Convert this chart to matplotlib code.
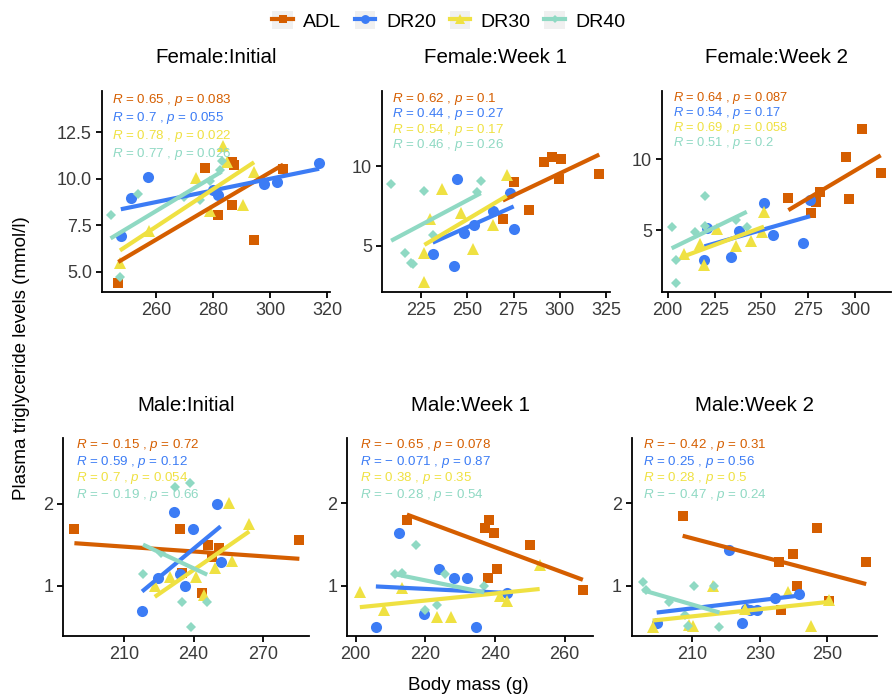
import numpy as np
import matplotlib
matplotlib.use('Agg')
import matplotlib.pyplot as plt
from matplotlib.lines import Line2D
from matplotlib.patches import Rectangle
from matplotlib.legend_handler import HandlerTuple

plt.rcParams['font.family'] = ['Liberation Sans', 'DejaVu Sans']
plt.rcParams['mathtext.fontset'] = 'custom'
plt.rcParams['mathtext.it'] = 'Liberation Sans:italic'
plt.rcParams['mathtext.rm'] = 'Liberation Sans'

groups = ['ADL', 'DR20', 'DR30', 'DR40']
group_colors = ['#D55E00', '#3C7CF5', '#EFE142', '#8FD9C3']
group_markers = ['s', 'o', '^', 'D']
marker_sizes = [7.5, 8.0, 9.0, 5.5]

panel_titles = ['Female:Initial', 'Female:Week 1', 'Female:Week 2',
                'Male:Initial', 'Male:Week 1', 'Male:Week 2']

# ---- Female: Initial ----
fi_adl_mass = [246.8, 277.3, 286.8, 287.3, 281.8, 286.8, 294.2, 304.6]
fi_adl_tg = [4.41, 10.57, 10.93, 10.75, 8.07, 8.61, 6.73, 10.54]
fi_dr20_mass = [247.7, 251.1, 257.1, 281.6, 297.7, 302.6, 317.2, 280.0]
fi_dr20_tg = [6.93, 8.96, 10.09, 9.11, 9.71, 9.82, 10.84, 9.40]
fi_dr30_mass = [247.4, 257.7, 274.0, 278.9, 283.6, 284.8, 290.6, 294.4]
fi_dr30_tg = [5.48, 7.18, 10.04, 8.25, 11.79, 10.93, 8.57, 10.39]
fi_dr40_mass = [244.1, 247.4, 253.8, 275.4, 282.4, 283.0, 270.0, 279.0]
fi_dr40_tg = [8.07, 4.73, 9.20, 8.84, 10.48, 10.98, 9.00, 9.90]

# ---- Female: Week 1 ----
fw1_adl_mass = [269.2, 275.5, 283.2, 291.7, 295.7, 300.7, 299.8, 321.4]
fw1_adl_tg = [6.68, 8.99, 7.23, 10.25, 10.59, 10.46, 9.20, 9.54]
fw1_dr20_mass = [231.3, 242.8, 244.5, 248.4, 253.7, 264.1, 273.1, 275.1]
fw1_dr20_tg = [4.47, 3.76, 9.22, 5.80, 6.32, 7.16, 8.32, 6.05]
fw1_dr30_mass = [226.8, 226.8, 229.9, 236.4, 246.5, 253.0, 263.8, 271.3]
fw1_dr30_tg = [2.75, 4.54, 6.68, 8.59, 7.06, 4.79, 6.28, 9.47]
fw1_dr40_mass = [208.8, 216.5, 220.5, 226.8, 231.7, 255.1, 257.3, 219.5]
fw1_dr40_tg = [8.91, 4.52, 3.84, 8.47, 5.69, 8.36, 9.05, 3.95]

# ---- Female: Week 2 ----
fw2_adl_mass = [264.4, 276.3, 279.2, 281.3, 295.2, 297.0, 303.6, 313.7]
fw2_adl_tg = [7.29, 6.18, 7.00, 7.71, 10.12, 7.17, 12.12, 9.00]
fw2_dr20_mass = [219.6, 221.2, 233.6, 238.3, 251.2, 256.4, 272.1, 276.0]
fw2_dr20_tg = [2.88, 5.19, 3.11, 4.93, 6.93, 4.65, 4.10, 7.12]
fw2_dr30_mass = [208.9, 217.3, 219.6, 226.2, 236.3, 244.5, 250.2, 251.4]
fw2_dr30_tg = [3.35, 4.06, 2.57, 5.12, 3.89, 4.22, 4.88, 6.30]
fw2_dr40_mass = [202.1, 204.4, 204.4, 214.6, 219.9, 219.9, 236.5, 242.2]
fw2_dr40_tg = [5.24, 2.92, 1.27, 4.88, 7.41, 5.28, 5.75, 5.24]

# ---- Male: Initial ----
mi_adl_mass = [188.4, 234.1, 246.2, 251.0, 234.8, 243.8, 285.8, 248.0]
mi_adl_tg = [1.70, 1.70, 1.50, 1.46, 1.16, 0.91, 1.56, 1.35]
mi_dr20_mass = [217.7, 224.6, 231.7, 234.3, 236.5, 239.6, 250.3, 251.7]
mi_dr20_tg = [0.70, 1.10, 1.90, 1.15, 1.00, 1.70, 2.00, 1.29]
mi_dr30_mass = [223.2, 229.7, 240.9, 244.5, 249.1, 255.4, 256.8, 264.1]
mi_dr30_tg = [1.00, 1.11, 1.11, 0.89, 1.22, 2.01, 1.31, 1.76]
mi_dr40_mass = [218.1, 225.7, 231.9, 235.1, 238.4, 239.1, 245.9]
mi_dr40_tg = [1.15, 1.40, 2.21, 0.80, 2.25, 0.50, 0.80]

# ---- Male: Week 1 ----
mw1_adl_mass = [214.7, 237.2, 238.4, 239.8, 237.9, 240.6, 250.1, 265.2]
mw1_adl_tg = [1.80, 1.70, 1.80, 1.64, 1.10, 1.20, 1.49, 0.95]
mw1_dr20_mass = [205.8, 212.5, 219.5, 223.8, 228.1, 231.9, 234.5, 243.4]
mw1_dr20_tg = [0.50, 1.64, 0.66, 1.20, 1.10, 1.10, 0.50, 0.91]
mw1_dr30_mass = [201.2, 208.0, 213.4, 223.3, 227.3, 241.3, 243.4, 252.8]
mw1_dr30_tg = [0.92, 0.71, 0.97, 0.62, 0.62, 0.87, 0.82, 1.25]
mw1_dr40_mass = [211.3, 213.2, 217.4, 219.9, 223.3, 225.7, 236.9]
mw1_dr40_tg = [1.14, 1.15, 1.49, 0.70, 0.77, 1.14, 1.00]

# ---- Male: Week 2 ----
mw2_adl_mass = [207.1, 236.2, 235.8, 239.7, 240.9, 247.0, 250.6, 261.5]
mw2_adl_tg = [1.85, 0.70, 1.29, 1.39, 1.00, 1.70, 0.81, 1.29]
mw2_dr20_mass = [199.4, 220.7, 224.6, 227.1, 229.1, 234.5, 241.7, 226.0]
mw2_dr20_tg = [0.55, 1.44, 0.55, 0.70, 0.70, 0.85, 0.90, 0.72]
mw2_dr30_mass = [198.2, 210.1, 216.0, 225.6, 238.4, 245.1, 250.6, 209.0]
mw2_dr30_tg = [0.50, 0.51, 1.00, 0.72, 0.93, 0.51, 0.83, 0.52]
mw2_dr40_mass = [195.3, 196.3, 208.8, 210.6, 216.4, 218.0, 207.8, 203.0]
mw2_dr40_tg = [1.05, 0.95, 0.51, 1.00, 1.00, 0.50, 0.64, 0.80]

M = '\u2212'
fi_labels = ['0.65|0.083', '0.7|0.055', '0.78|0.022', '0.77|0.026']
fw1_labels = ['0.62|0.1', '0.44|0.27', '0.54|0.17', '0.46|0.26']
fw2_labels = ['0.64|0.087', '0.54|0.17', '0.69|0.058', '0.51|0.2']
mi_labels = [M + ' 0.15|0.72', '0.59|0.12', '0.7|0.054', M + ' 0.19|0.66']
mw1_labels = [M + ' 0.65|0.078', M + ' 0.071|0.87', '0.38|0.35', M + ' 0.28|0.54']
mw2_labels = [M + ' 0.42|0.31', '0.25|0.56', '0.28|0.5', M + ' 0.47|0.24']

panels = [
    ([(fi_adl_mass, fi_adl_tg), (fi_dr20_mass, fi_dr20_tg), (fi_dr30_mass, fi_dr30_tg), (fi_dr40_mass, fi_dr40_tg)], fi_labels),
    ([(fw1_adl_mass, fw1_adl_tg), (fw1_dr20_mass, fw1_dr20_tg), (fw1_dr30_mass, fw1_dr30_tg), (fw1_dr40_mass, fw1_dr40_tg)], fw1_labels),
    ([(fw2_adl_mass, fw2_adl_tg), (fw2_dr20_mass, fw2_dr20_tg), (fw2_dr30_mass, fw2_dr30_tg), (fw2_dr40_mass, fw2_dr40_tg)], fw2_labels),
    ([(mi_adl_mass, mi_adl_tg), (mi_dr20_mass, mi_dr20_tg), (mi_dr30_mass, mi_dr30_tg), (mi_dr40_mass, mi_dr40_tg)], mi_labels),
    ([(mw1_adl_mass, mw1_adl_tg), (mw1_dr20_mass, mw1_dr20_tg), (mw1_dr30_mass, mw1_dr30_tg), (mw1_dr40_mass, mw1_dr40_tg)], mw1_labels),
    ([(mw2_adl_mass, mw2_adl_tg), (mw2_dr20_mass, mw2_dr20_tg), (mw2_dr30_mass, mw2_dr30_tg), (mw2_dr40_mass, mw2_dr40_tg)], mw2_labels),
]

x_ticks = [[260, 280, 300, 320], [225, 250, 275, 300, 325], [200, 225, 250, 275, 300],
           [210, 240, 270], [200, 220, 240, 260], [210, 230, 250]]
y_ticks = [[5.0, 7.5, 10.0, 12.5], [5, 10], [5, 10], [1, 2], [1, 2], [1, 2]]
y_fmt = ['%.1f', '%d', '%d', '%d', '%d', '%d']
x_lims = [(241.0, 321.0), (203.7, 327.2), (196.8, 319.2), (183.6, 290.1), (197.6, 268.2), (192.0, 264.7)]
y_lims = [(3.91, 14.73), (2.1, 14.73), (0.66, 14.79), (0.39, 2.80), (0.39, 2.79), (0.39, 2.79)]

# layout in pixels: left, right, top, bottom
W, H = 893, 698
boxes = [(101.7, 330, 91, 292), (381.7, 610, 91, 292), (661.7, 891, 91, 292),
         (63.3, 309.3, 438.3, 636), (347.3, 593.3, 438.3, 636), (631.7, 877, 438.3, 636)]
txt_dx = [10, 10, 11.5, 12.5, 12.5, 11.5]
txt_first = [9.3, 7.6, 6.8, 6.7, 6.7, 6.7]
txt_step = [18.0, 15.6, 15.0, 16.7, 16.7, 16.7]

fig = plt.figure(figsize=(W / 100, H / 100), dpi=100)
fig.patch.set_facecolor('white')

for i, (series, labels) in enumerate(panels):
    l, r, t, b = boxes[i]
    ax = fig.add_axes([l / W, 1 - b / H, (r - l) / W, (b - t) / H])
    for g, (xs, ys) in enumerate(series):
        ax.plot(xs, ys, linestyle='none', marker=group_markers[g], ms=marker_sizes[g],
                color=group_colors[g], markeredgewidth=0, zorder=2)
    for g, (xs, ys) in enumerate(series):
        xa, ya = np.array(xs), np.array(ys)
        k, c = np.polyfit(xa, ya, 1)
        xx = np.array([xa.min(), xa.max()])
        ax.plot(xx, k * xx + c, color=group_colors[g], lw=3.0, solid_capstyle='butt', zorder=3)
    fs = 9.3 if txt_step[i] < 15.5 else 9.6
    for g, lab in enumerate(labels):
        rv, pv = lab.split('|')
        s = r'$\mathit{R}$ = ' + rv + r' , $\mathit{p}$ = ' + pv
        ax.annotate(s, xy=(0, 1), xycoords='axes fraction',
                    xytext=(txt_dx[i], -(txt_first[i] + g * txt_step[i])),
                    textcoords='offset pixels', ha='left', va='center',
                    fontsize=fs, color=group_colors[g], zorder=4)
    ax.set_xlim(*x_lims[i])
    ax.set_ylim(*y_lims[i])
    ax.set_xticks(x_ticks[i])
    ax.set_yticks(y_ticks[i])
    ax.set_yticklabels([y_fmt[i] % v for v in y_ticks[i]])
    for sp in ['top', 'right']:
        ax.spines[sp].set_visible(False)
    for sp in ['left', 'bottom']:
        ax.spines[sp].set_linewidth(1.3)
        ax.spines[sp].set_color('black')
    ax.tick_params(axis='both', direction='out', length=4, width=1.3, color='black',
                   labelsize=13, labelcolor='#3a3a3a', pad=3)
    ax.set_title(panel_titles[i], fontsize=14.8, pad=20, color='black')

fig.text(22 / W, 1 - 358 / H, 'Plasma triglyceride levels (mmol/l)', rotation=90,
         ha='center', va='center', fontsize=13.5, color='black')
fig.text(468 / W, 1 - 685 / H, 'Body mass (g)', ha='center', va='center',
         fontsize=13.5, color='black')

handles = []
for g in range(4):
    bg = Rectangle((0, 0), 1, 1, facecolor='#F0F0F0', edgecolor='none')
    ln = Line2D([0], [0], color=group_colors[g], lw=3.0, marker=group_markers[g],
                ms=marker_sizes[g] * 0.8, markeredgewidth=0)
    handles.append((bg, ln))
fig.legend(handles, groups, loc='center', bbox_to_anchor=(449 / W, 1 - 20.7 / H), ncol=4,
           frameon=False, fontsize=14, handlelength=1.05, handleheight=1.05,
           handletextpad=0.55, columnspacing=0.7,
           handler_map={tuple: HandlerTuple(ndivide=1, pad=0)})

fig.savefig('out.png', dpi=100, facecolor='white')
